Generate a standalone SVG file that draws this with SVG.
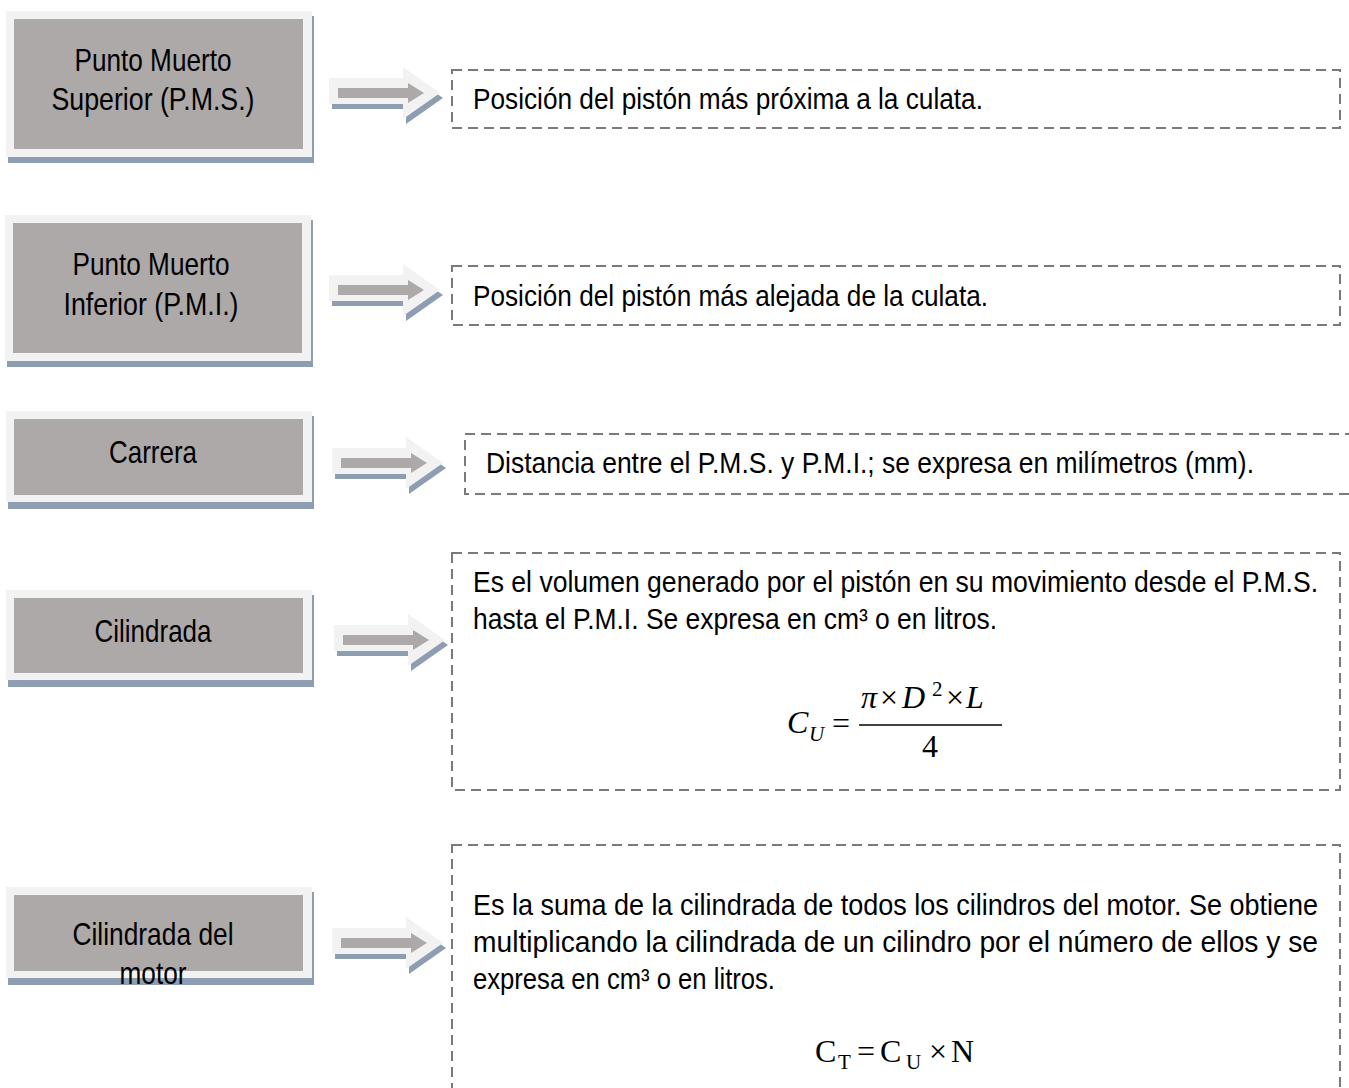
<svg xmlns="http://www.w3.org/2000/svg" width="1349" height="1088" viewBox="0 0 1349 1088">
<defs>
<style>
.sh{fill:#8E9EB2}
.lt{fill:#F2F2F2}
.gr{fill:#ADA9A8}
.bt{font-family:"Liberation Sans Narrow","Arial Narrow","Liberation Sans",sans-serif;font-size:31px;fill:#000;text-anchor:middle}
.tx{font-family:"Liberation Sans Narrow","Arial Narrow","Liberation Sans",sans-serif;font-size:29px;fill:#000}
.db{fill:none;stroke:#7A7A7A;stroke-width:2;stroke-dasharray:10 6}
.fm{font-family:"Liberation Serif","Times New Roman",serif;font-size:32px;fill:#000}
.fs{font-family:"Liberation Serif","Times New Roman",serif;font-size:21px;fill:#000}
.it{font-style:italic}
</style>
<g id="arrowShape">
<polygon class="sh" points="3,16 77,16 77,5 114,31 77,57 77,42 3,42"/>
<polygon class="lt" points="0,11 74,11 74,0 111,26 74,52 74,37 0,37"/>
<polygon class="gr" points="9,21 79,21 79,16 95,26 79,36 79,31 9,31"/>
</g>
</defs>
<rect width="1349" height="1088" fill="#fff"/>

<g id="node-pms">
<rect class="sh" x="8" y="16" width="306" height="147"/>
<rect class="lt" x="6" y="11" width="306" height="146"/>
<rect class="gr" x="14" y="19" width="289" height="130"/>
<text class="bt" transform="translate(153 71) scale(0.84 1)" x="0" y="0" textLength="186.9" lengthAdjust="spacingAndGlyphs">Punto Muerto</text>
<text class="bt" transform="translate(153 110) scale(0.84 1)" x="0" y="0" textLength="241.7" lengthAdjust="spacingAndGlyphs">Superior (P.M.S.)</text>
</g>

<g id="node-pmi">
<rect class="sh" x="7" y="220" width="306" height="147"/>
<rect class="lt" x="5" y="215" width="306" height="146"/>
<rect class="gr" x="13" y="223" width="289" height="130"/>
<text class="bt" transform="translate(151 275) scale(0.84 1)" x="0" y="0" textLength="186.9" lengthAdjust="spacingAndGlyphs">Punto Muerto</text>
<text class="bt" transform="translate(151 315) scale(0.84 1)" x="0" y="0" textLength="208.3" lengthAdjust="spacingAndGlyphs">Inferior (P.M.I.)</text>
</g>

<g id="node-carrera">
<rect class="sh" x="8" y="416" width="306" height="93"/>
<rect class="lt" x="6" y="411" width="306" height="91"/>
<rect class="gr" x="14" y="419" width="289" height="76"/>
<text class="bt" transform="translate(153 463) scale(0.84 1)" x="0" y="0" textLength="104.8" lengthAdjust="spacingAndGlyphs">Carrera</text>
</g>

<g id="node-cilindrada">
<rect class="sh" x="8" y="595" width="306" height="92"/>
<rect class="lt" x="6" y="590" width="306" height="90"/>
<rect class="gr" x="14" y="598" width="289" height="75"/>
<text class="bt" transform="translate(153 642) scale(0.84 1)" x="0" y="0" textLength="139.3" lengthAdjust="spacingAndGlyphs">Cilindrada</text>
</g>

<g id="node-cilindrada-motor">
<rect class="sh" x="8" y="892" width="306" height="93"/>
<rect class="lt" x="6" y="887" width="306" height="91"/>
<rect class="gr" x="14" y="895" width="289" height="76"/>
<text class="bt" transform="translate(153 945) scale(0.84 1)" x="0" y="0" textLength="191.7" lengthAdjust="spacingAndGlyphs">Cilindrada del</text>
<text class="bt" transform="translate(153 984) scale(0.84 1)" x="0" y="0" textLength="79.8" lengthAdjust="spacingAndGlyphs">motor</text>
</g>

<g id="connectors">
<use href="#arrowShape" transform="translate(329,67)"/>
<use href="#arrowShape" transform="translate(329,264)"/>
<use href="#arrowShape" transform="translate(332,437)"/>
<use href="#arrowShape" transform="translate(334,614)"/>
<use href="#arrowShape" transform="translate(332,917)"/>
</g>

<g id="def-pms">
<rect class="db" x="452" y="70" width="888" height="58"/>
<text class="tx" transform="translate(473 109) scale(0.84 1)" x="0" y="0" textLength="607.1" lengthAdjust="spacingAndGlyphs">Posición del pistón más próxima a la culata.</text>
</g>

<g id="def-pmi">
<rect class="db" x="452" y="266" width="888" height="59"/>
<text class="tx" transform="translate(473 306) scale(0.84 1)" x="0" y="0" textLength="613.1" lengthAdjust="spacingAndGlyphs">Posición del pistón más alejada de la culata.</text>
</g>

<g id="def-carrera">
<rect class="db" x="465" y="434" width="900" height="60"/>
<text class="tx" transform="translate(486 473) scale(0.84 1)" x="0" y="0" textLength="914.3" lengthAdjust="spacingAndGlyphs">Distancia entre el P.M.S. y P.M.I.; se expresa en milímetros (mm).</text>
</g>

<g id="def-cilindrada">
<rect class="db" x="452" y="553" width="888" height="237"/>
<text class="tx" transform="translate(473 592) scale(0.84 1)" x="0" y="0" textLength="1006" lengthAdjust="spacingAndGlyphs">Es el volumen generado por el pistón en su movimiento desde el P.M.S.</text>
<text class="tx" transform="translate(473 629) scale(0.84 1)" x="0" y="0" textLength="623.8" lengthAdjust="spacingAndGlyphs">hasta el P.M.I. Se expresa en cm³ o en litros.</text>
<text class="fm it" x="787" y="733">C</text>
<text class="fs it" x="809" y="741">U</text>
<text class="fm" x="832" y="734">=</text>
<line x1="859" y1="725" x2="1002" y2="725" stroke="#000" stroke-width="1.3"/>
<text class="fm it" x="861" y="708">π</text>
<text class="fm" x="880" y="708">×</text>
<text class="fm it" x="902" y="708">D</text>
<text class="fs" x="932" y="696">2</text>
<text class="fm" x="946" y="708">×</text>
<text class="fm it" x="966" y="708">L</text>
<text class="fm" x="922" y="757">4</text>
</g>

<g id="def-cilindrada-motor">
<rect class="db" x="452" y="845" width="888" height="260"/>
<text class="tx" transform="translate(473 915) scale(0.84 1)" x="0" y="0" textLength="1006" lengthAdjust="spacingAndGlyphs">Es la suma de la cilindrada de todos los cilindros del motor. Se obtiene</text>
<text class="tx" transform="translate(473 952) scale(0.84 1)" x="0" y="0" textLength="1006" lengthAdjust="spacingAndGlyphs">multiplicando la cilindrada de un cilindro por el número de ellos y se</text>
<text class="tx" transform="translate(473 989) scale(0.84 1)" x="0" y="0" textLength="359.5" lengthAdjust="spacingAndGlyphs">expresa en cm³ o en litros.</text>
<text class="fm" x="815" y="1062">C</text>
<text class="fs" x="838" y="1069">T</text>
<text class="fm" x="857" y="1062">=</text>
<text class="fm" x="880" y="1062">C</text>
<text class="fs" x="906" y="1069">U</text>
<text class="fm" x="929" y="1062">×</text>
<text class="fm" x="951" y="1062">N</text>
</g>
</svg>
